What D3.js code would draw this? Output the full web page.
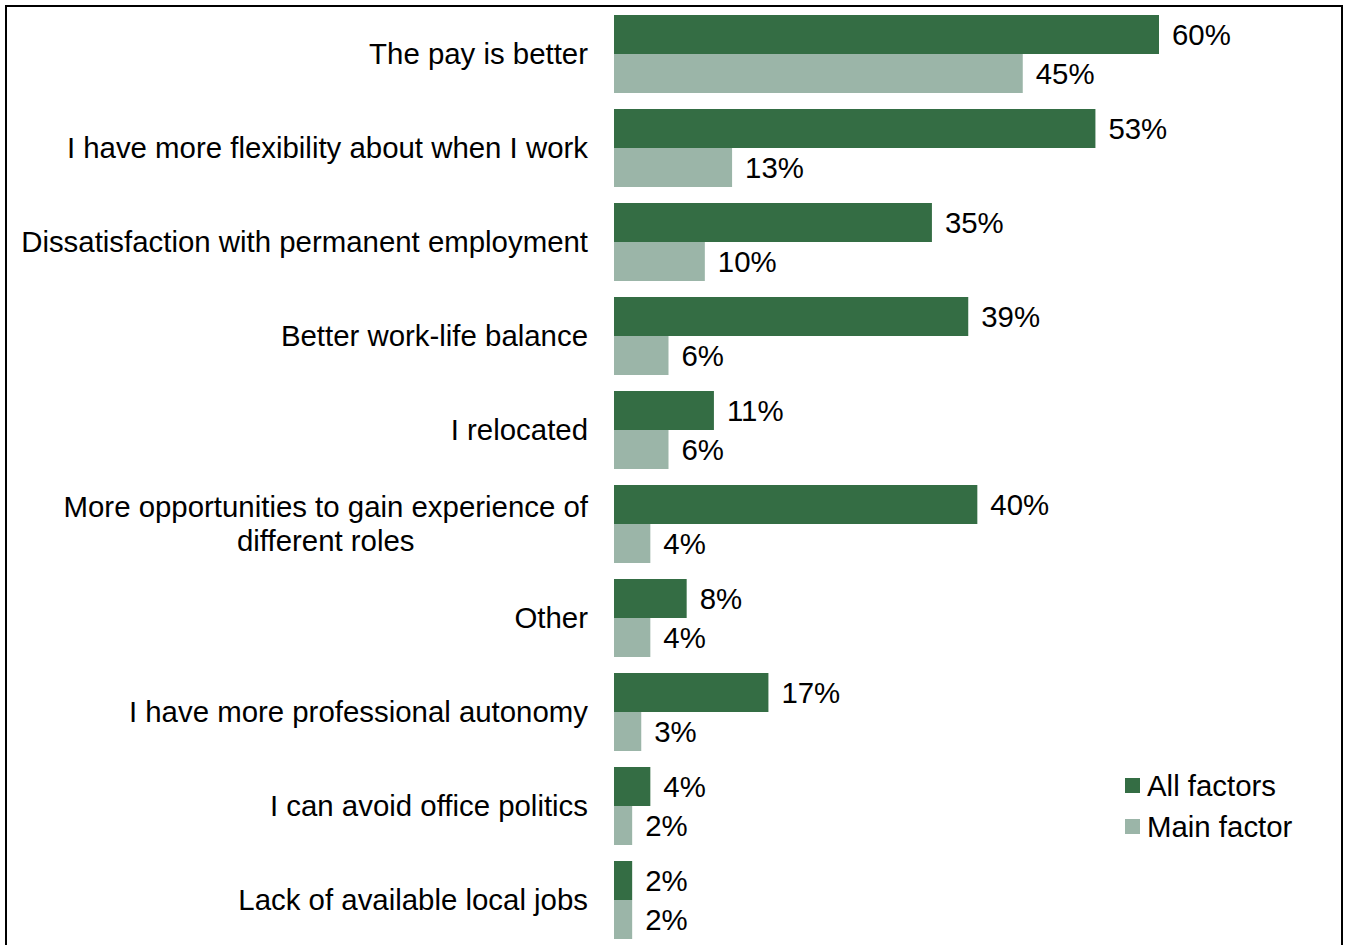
<!DOCTYPE html>
<html>
<head>
<meta charset="utf-8">
<script src="https://cdn.jsdelivr.net/npm/d3@7"></script>
<style>
  html, body { margin: 0; padding: 0; background: #fff; }
  svg { display: block; }
  text { font-family: "Liberation Sans", Arial, sans-serif; fill: #000; }
</style>
</head>
<body>
<svg id="chart" width="1347" height="945"></svg>
<script>
// Reasons for choosing this way of working
const categories = [
  "The pay is better",
  "I have more flexibility about when I work",
  "Dissatisfaction with permanent employment",
  "Better work-life balance",
  "I relocated",
  "More opportunities to gain experience of\ndifferent roles",
  "Other",
  "I have more professional autonomy",
  "I can avoid office politics",
  "Lack of available local jobs"
];
const allFactors = [60, 53, 35, 39, 11, 40, 8, 17, 4, 2];
const mainFactor = [45, 13, 10, 6, 6, 4, 4, 3, 2, 2];
const seriesNames = ["All factors", "Main factor"];
const seriesColors = ["#346D44", "#9BB5A8"];

const rows = categories.map((c, i) => ({ cat: c, values: [allFactors[i], mainFactor[i]] }));

const svg = d3.select("#chart");
const fontSize = 29.4;

// Outer frame
svg.append("rect")
  .attr("x", 6).attr("y", 6)
  .attr("width", 1336).attr("height", 1000)
  .attr("fill", "none").attr("stroke", "#000").attr("stroke-width", 2);

const x = d3.scaleLinear().domain([0, 60]).range([614, 1159]);
const y = d3.scaleBand().domain(categories).range([15, 939]).paddingInner(16 / 94).paddingOuter(0);
const ySub = d3.scaleBand().domain(seriesNames).range([0, y.bandwidth()]);

const groups = svg.append("g").selectAll("g.row")
  .data(rows).join("g")
  .attr("class", "row")
  .attr("transform", d => `translate(0,${y(d.cat)})`);

// Bars
groups.selectAll("rect")
  .data(d => d.values.map((v, j) => ({ v, s: seriesNames[j], j })))
  .join("rect")
  .attr("x", x(0))
  .attr("y", d => ySub(d.s))
  .attr("width", d => x(d.v) - x(0))
  .attr("height", ySub.bandwidth())
  .attr("fill", d => seriesColors[d.j]);

// Value labels
groups.selectAll("text.val")
  .data(d => d.values.map((v, j) => ({ v, s: seriesNames[j] })))
  .join("text")
  .attr("class", "val")
  .attr("x", d => x(d.v) + 13)
  .attr("y", d => ySub(d.s) + ySub.bandwidth() / 2)
  .attr("dy", "0.35em")
  .attr("font-size", fontSize)
  .text(d => d.v + "%");

// Category labels (multi-line labels are centred within a right-aligned block)
const labelRight = 588;
const lineH = 34;
groups.each(function (d) {
  const g = d3.select(this);
  const lines = d.cat.split("\n");
  const cy = y.bandwidth() / 2;
  if (lines.length === 1) {
    g.append("text")
      .attr("font-size", fontSize)
      .attr("text-anchor", "end")
      .attr("x", labelRight)
      .attr("y", cy).attr("dy", "0.35em").text(lines[0]);
  } else {
    const nodes = lines.map((ln, k) => g.append("text")
      .attr("font-size", fontSize)
      .attr("text-anchor", "middle")
      .attr("y", cy + (k - (lines.length - 1) / 2) * lineH)
      .attr("dy", "0.35em")
      .text(ln));
    const w = d3.max(nodes, n => n.node().getComputedTextLength());
    nodes.forEach(n => n.attr("x", labelRight - w / 2));
  }
});

// Legend
const legend = svg.append("g").attr("transform", "translate(1125,778)");
seriesNames.forEach((name, i) => {
  const lg = legend.append("g").attr("transform", `translate(0,${i * 41})`);
  lg.append("rect").attr("width", 15).attr("height", 15).attr("fill", seriesColors[i]);
  lg.append("text").attr("x", 22).attr("y", 7.5).attr("dy", "0.35em")
    .attr("font-size", fontSize).text(name);
});
</script>
</body>
</html>
